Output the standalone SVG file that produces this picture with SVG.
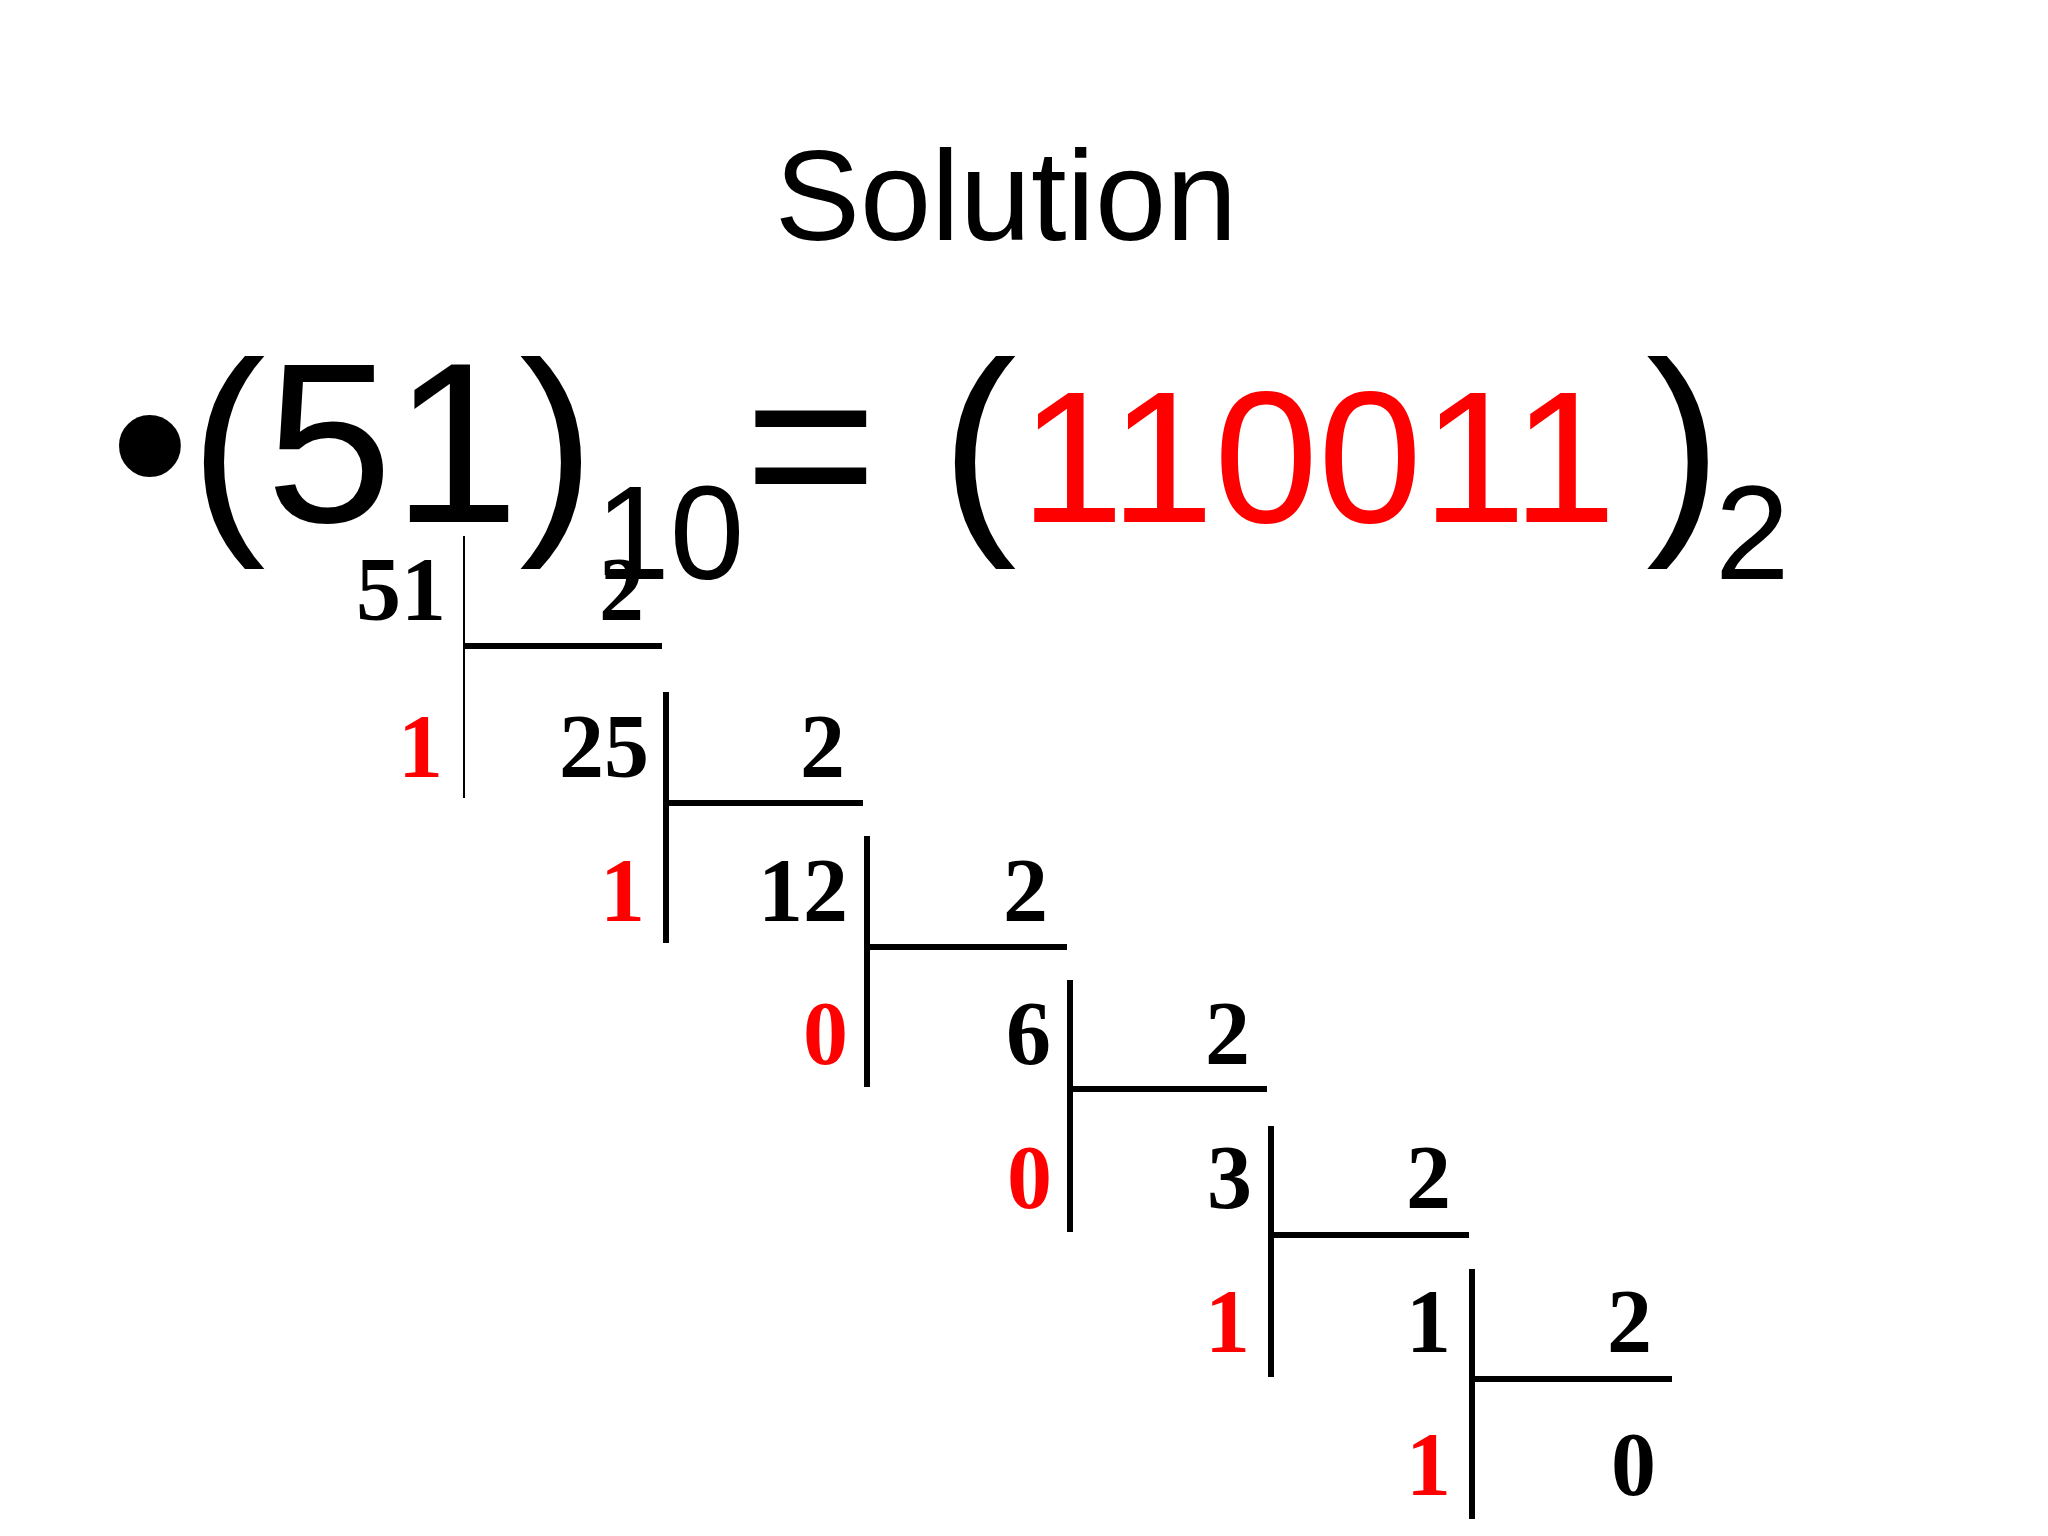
<svg xmlns="http://www.w3.org/2000/svg" width="2048" height="1536" viewBox="0 0 2048 1536">
<style>
.sans{font-family:"Liberation Sans",Arial,sans-serif;fill:#000}
.d{font-family:"Liberation Serif","Times New Roman",serif;font-weight:bold;font-size:90px;fill:#000;text-anchor:end}
.r{fill:#ff0000}
.ln{stroke:#000;stroke-width:6;fill:none}
</style>
<rect width="2048" height="1536" fill="#fff"/>
<g id="title">
<text class="sans" x="1006" y="240" font-size="128" text-anchor="middle">Solution</text>
</g>
<g id="equation">
<text class="sans" x="110" y="522" font-size="228">•(51)<tspan font-size="134" y="579">10</tspan><tspan y="522">= (</tspan><tspan x="1020" fill="#ff0000" font-size="187">110011</tspan><tspan x="1646">)</tspan><tspan x="1715" font-size="134" y="579">2</tspan></text>
</g>
<g id="division-lines">
<line x1="464" y1="536" x2="464" y2="798" stroke="#000" stroke-width="2"/>
<line class="ln" x1="464" y1="646" x2="662" y2="646"/>
<line class="ln" x1="666" y1="692" x2="666" y2="943"/>
<line class="ln" x1="666" y1="803" x2="863" y2="803"/>
<line class="ln" x1="867" y1="836" x2="867" y2="1087"/>
<line class="ln" x1="867" y1="947" x2="1067" y2="947"/>
<line class="ln" x1="1070" y1="980" x2="1070" y2="1232"/>
<line class="ln" x1="1070" y1="1089" x2="1267" y2="1089"/>
<line class="ln" x1="1271" y1="1126" x2="1271" y2="1377"/>
<line class="ln" x1="1271" y1="1235" x2="1469" y2="1235"/>
<line class="ln" x1="1472" y1="1269" x2="1472" y2="1519"/>
<line class="ln" x1="1472" y1="1379" x2="1672" y2="1379"/>
</g>
<g id="row0">
<text class="d" x="446" y="620">51</text>
<text class="d" x="644" y="620">2</text>
</g>
<g id="row1">
<text class="d r" x="443" y="777">1</text>
<text class="d" x="649" y="777">25</text>
<text class="d" x="845" y="777">2</text>
</g>
<g id="row2">
<text class="d r" x="645" y="921">1</text>
<text class="d" x="848" y="921">12</text>
<text class="d" x="1048" y="921">2</text>
</g>
<g id="row3">
<text class="d r" x="848" y="1064">0</text>
<text class="d" x="1051" y="1064">6</text>
<text class="d" x="1250" y="1064">2</text>
</g>
<g id="row4">
<text class="d r" x="1052" y="1208">0</text>
<text class="d" x="1252" y="1208">3</text>
<text class="d" x="1451" y="1208">2</text>
</g>
<g id="row5">
<text class="d r" x="1250" y="1352">1</text>
<text class="d" x="1451" y="1352">1</text>
<text class="d" x="1652" y="1352">2</text>
</g>
<g id="row6">
<text class="d r" x="1451" y="1495">1</text>
<text class="d" x="1656" y="1495">0</text>
</g>
</svg>
